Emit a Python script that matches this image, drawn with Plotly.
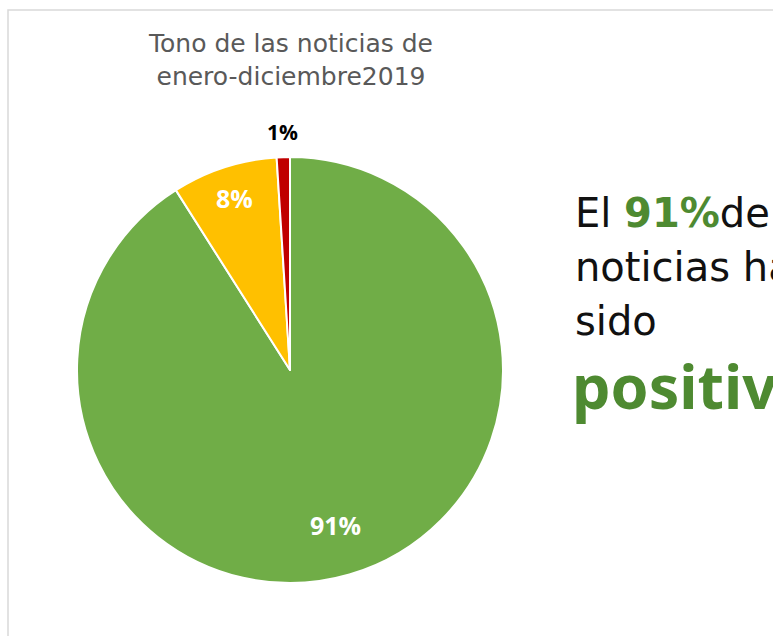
import math
import plotly.graph_objects as go

# Data
categories = ["Positivo", "Neutro", "Negativo"]
values = [91, 8, 1]
colors = ["#70AD47", "#FFC000", "#C00000"]
label_colors = ["white", "white", "black"]
label_sizes = [25, 25, 21]
label_radius = [0.76, 0.85, 1.12]  # label distance from centre, in pie radii

title_lines = ["Tono de las noticias de", "enero-diciembre2019"]
message_lines = ["El <b><span style='color:#4E8A31'>91%</span></b>de las", "noticias han", "sido"]
highlight = "positivas"

W, H = 773, 636

def px(x):
    return x / W

def py(y):
    return 1 - y / H

# Pie geometry (pixels)
cx, cy, r = 290, 370, 213

fig = go.Figure()
fig.add_trace(go.Pie(
    labels=categories,
    values=values,
    sort=False,
    direction="clockwise",
    rotation=0,
    marker=dict(colors=colors, line=dict(color="white", width=2)),
    textinfo="none",
    showlegend=False,
    hoverinfo="label+percent",
    domain=dict(x=[px(cx - r), px(cx + r)], y=[py(cy + r), py(cy - r)]),
))

# Slice labels positioned at each slice's mid-angle (derived from the values)
annotations = []
total = sum(values)
cum = 0.0
for v, col, sz, rf in zip(values, label_colors, label_sizes, label_radius):
    mid = (cum + v / 2) / total * 2 * math.pi  # clockwise from 12 o'clock
    cum += v
    lx = cx + math.sin(mid) * r * rf
    ly = cy - math.cos(mid) * r * rf
    annotations.append(dict(
        text=f"<b>{v}%</b>", x=px(lx), y=py(ly), xref="paper", yref="paper",
        xanchor="center", yanchor="middle", showarrow=False,
        font=dict(family="Open Sans", size=sz, color=col)))

annotations.append(dict(
    text="<br>".join(title_lines), x=px(290), y=py(60), xref="paper", yref="paper",
    xanchor="center", yanchor="middle", showarrow=False,
    font=dict(family="DejaVu Sans", size=25, color="#595959")))

for i, line in enumerate(message_lines):
    annotations.append(dict(
        text=line, x=px(573), y=py(213 + 54 * i), xref="paper", yref="paper",
        xanchor="left", yanchor="middle", align="left", showarrow=False,
        font=dict(family="DejaVu Sans", size=40, color="#111111")))

annotations.append(dict(
    text=f"<b>{highlight}</b>", x=px(570), y=py(385), xref="paper", yref="paper",
    xanchor="left", yanchor="middle", align="left", showarrow=False,
    font=dict(family="Noto Sans", size=61, color="#4E8A31")))

fig.update_layout(
    width=W, height=H,
    margin=dict(l=0, r=0, t=0, b=0),
    paper_bgcolor="white",
    plot_bgcolor="white",
    annotations=annotations,
    shapes=[dict(type="rect", xref="paper", yref="paper",
                 x0=px(8), x1=px(790), y0=py(660), y1=py(10),
                 line=dict(color="#D9D9D9", width=1.5), fillcolor="rgba(0,0,0,0)")],
)

fig.write_html("out.html", config={"displayModeBar": False},
               post_script="document.body.style.margin='0px';document.body.style.overflow='hidden';")
